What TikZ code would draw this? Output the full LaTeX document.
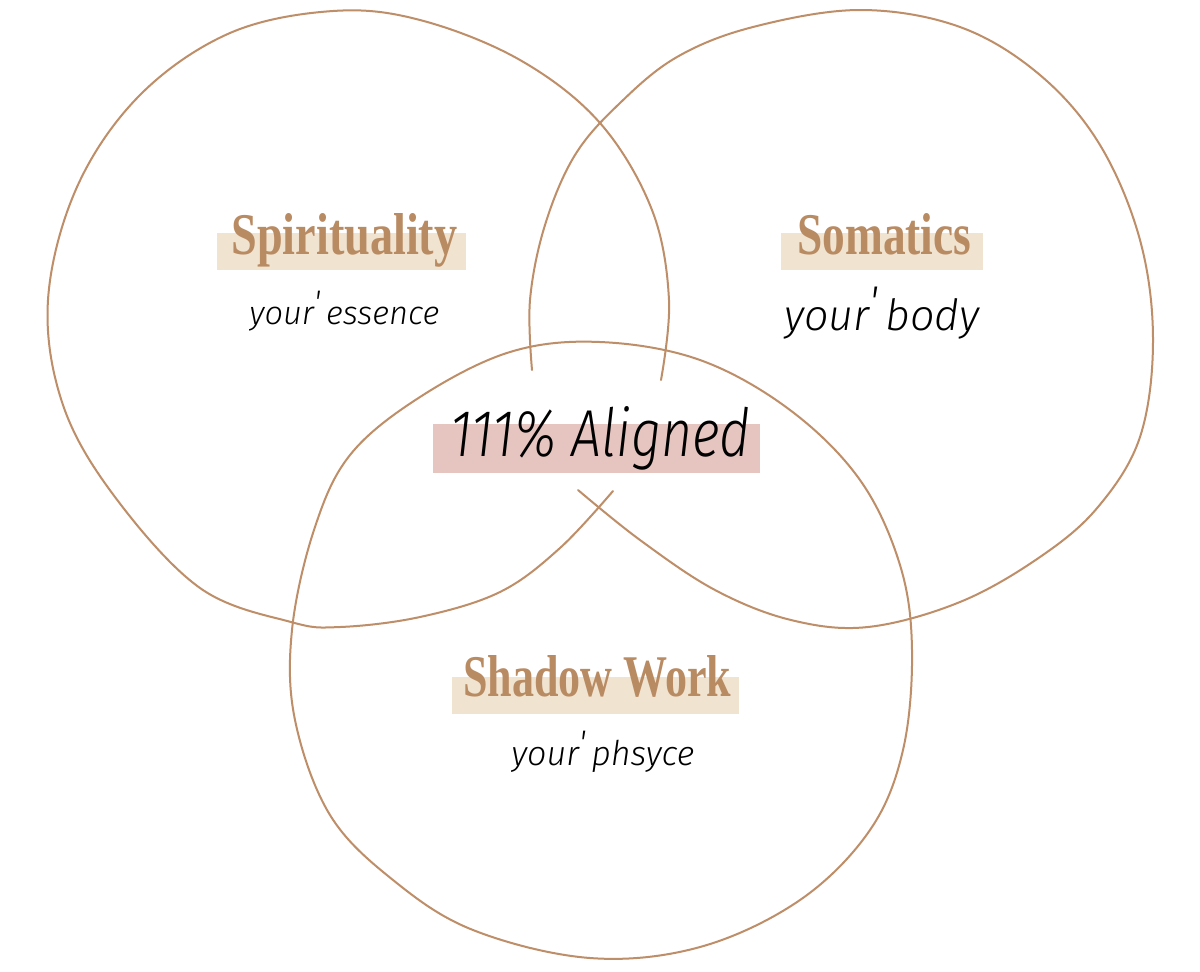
\documentclass[tikz,border=0pt]{standalone}
\usepackage{fontspec}
\newfontfamily\headfont{Liberation Serif}
\newfontfamily\handfont{Fira Sans Light Italic}
\definecolor{ringcol}{RGB}{190,142,104}
\definecolor{headcol}{RGB}{185,139,99}
\definecolor{beige}{RGB}{240,227,207}
\definecolor{pinkbar}{RGB}{230,196,192}
\newdimen\px \px=0.5pt
\begin{document}
\begin{tikzpicture}[x=0.5pt,y=-0.5pt,
  ringline/.style={draw=ringcol, line width=1pt, line cap=round, line join=round},
  barbox/.style={fill=beige, draw=none, inner sep=0, minimum height=37\px},
  pinkbox/.style={fill=pinkbar, draw=none, inner sep=0},
  headtxt/.style={anchor=base west, inner sep=0, text=headcol, font=\headfont\bfseries},
  handtxt/.style={anchor=base west, inner sep=0, text=black, font=\handfont}]
\useasboundingbox (0,0) rectangle (1200,971);
\fill[white] (0,0) rectangle (1200,971);

% highlight bars
\node[barbox, minimum width=249\px] (b1) at (341.5,251.5) {};
\node[barbox, minimum width=202\px] (b2) at (882,251.5) {};
\node[barbox, minimum width=287\px] (b3) at (595.5,695.5) {};
\node[pinkbox, minimum width=327\px, minimum height=49\px] (b4) at (596.5,448.5) {};

% left ring (Spirituality)
\draw[ringline] plot[smooth, tension=0.6] coordinates {
 (661,380) (669,300) (652,210) (600,123) (520,60) (420,20) (333,11)
 (230,33) (140,95) (77,187) (48,300) (63,405) (115,497) (200,588)
 (291,622) (340,627) (420,617) (500,592) (560,548) (613,491)};

% right ring (Somatics)
\draw[ringline] plot[smooth, tension=0.6] coordinates {
 (532,370) (530,300) (545,225) (575,155) (620,103) (677,57) (753,27)
 (860,10) (960,27) (1040,75) (1100,145) (1140,240) (1153,340) (1140,437)
 (1098,507) (1040,557) (960,602) (868,627) (791,620) (715,590) (640,540) (578,490)};

% bottom ring (Shadow Work)
\draw[ringline] plot[smooth cycle, tension=0.6] coordinates {
 (600,342) (700,360) (790,410) (860,480) (900,565) (912,650) (903,750)
 (870,830) (800,900) (700,947) (590,958) (473,930) (393,880) (330,815)
 (295,720) (292,630) (314,530) (350,455) (420,397) (510,352)};

% headings
\node[headtxt] (t1) at (231,254) {\resizebox{226\px}{41\px}{Spirituality}};
\node[headtxt] (t2) at (797,254) {\resizebox{174\px}{41\px}{Somatics}};
\node[headtxt] (t3) at (463,696) {\resizebox{268\px}{41\px}{Shadow Work}};

% handwritten subtitles
\node[handtxt] (s1) at (249,324) {\resizebox{190\px}{!}{your\raisebox{.6ex}{'}\,essence}};
\node[handtxt] (s2) at (784,330) {\resizebox{195\px}{!}{your\raisebox{.6ex}{'}\,body}};
\node[handtxt] (s3) at (511,765) {\resizebox{183\px}{!}{your\raisebox{.6ex}{'}\,phsyce}};
\node[handtxt] (mid) at (450,456) {\resizebox{300\px}{50\px}{111\% Aligned}};
\end{tikzpicture}
\end{document}
